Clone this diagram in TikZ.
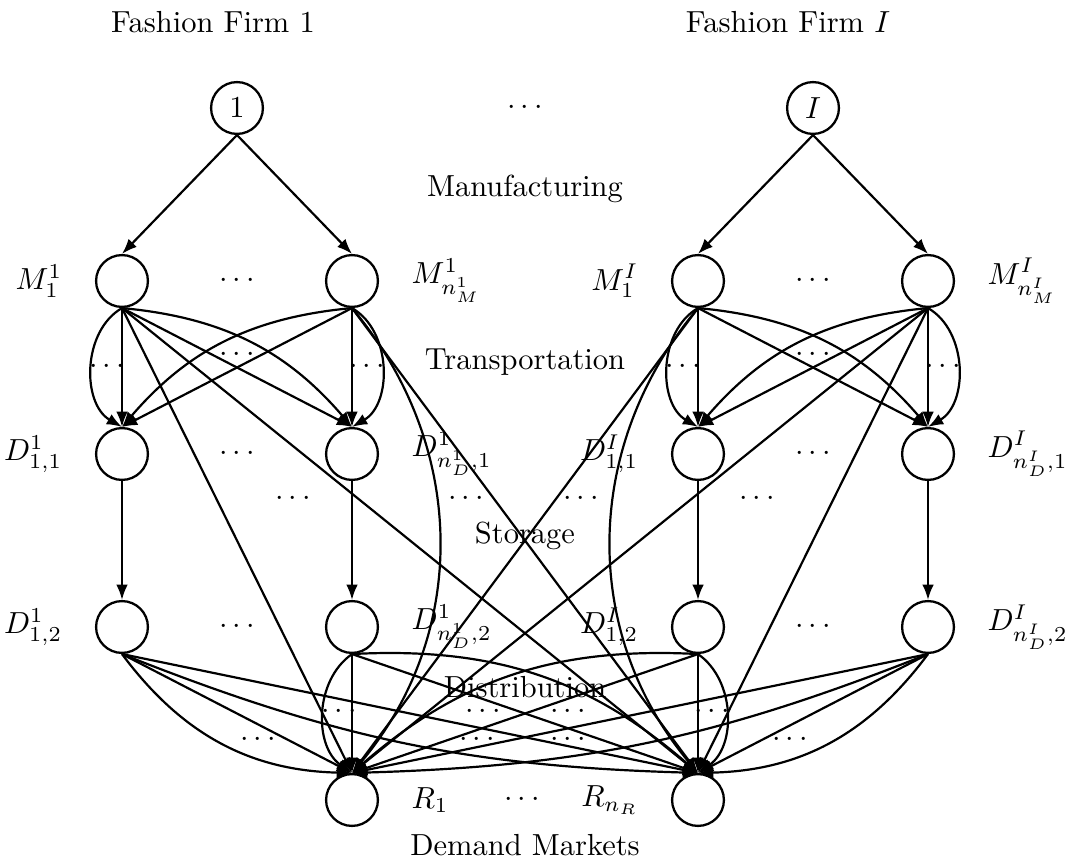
\documentclass[tikz,border=0pt]{standalone}
\usetikzlibrary{arrows.meta,positioning}
\begin{document}
\begin{tikzpicture}[x=0.328pt,y=-0.328pt,
  site/.style={circle,draw,line width=0.75pt,minimum size=17pt,inner sep=0pt},
  link/.style={-{Latex[length=5pt,width=3.8pt]},line width=0.72pt},
  lbl/.style={node distance=10.5pt,inner sep=0pt}]
\useasboundingbox (0,0) rectangle (1067,859);

% firms
\node[site] (F1) at (237,108) {$1$};
\node[site] (FI) at (813,108) {$I$};
\node (fdots) at (525,108) {$\cdots$};
\node[anchor=base] (t1) at (213,33) {Fashion Firm 1};
\node[anchor=base] (tI) at (788,33) {Fashion Firm $I$};

% manufacturing sites
\node[site] (Ma) at (122,281) {};
\node[site] (Mb) at (352,281) {};
\node[site] (Mc) at (698,281) {};
\node[site] (Md) at (928,281) {};
% distribution centres, two tiers
\node[site] (Pa) at (122,454) {};
\node[site] (Pb) at (352,454) {};
\node[site] (Pc) at (698,454) {};
\node[site] (Pd) at (928,454) {};
\node[site] (Qa) at (122,627) {};
\node[site] (Qb) at (352,627) {};
\node[site] (Qc) at (698,627) {};
\node[site] (Qd) at (928,627) {};
% demand markets
\node[site] (Ra) at (352,800) {};
\node[site] (Rb) at (698,800) {};

% node labels
\node[lbl,left=of Ma] (lMa) {$M^1_1$};
\node[lbl,right=of Mb] (lMb) {$M^1_{n^1_M}$};
\node[lbl,left=of Mc] (lMc) {$M^I_1$};
\node[lbl,right=of Md] (lMd) {$M^I_{n^I_M}$};
\node[lbl,left=of Pa] (lPa) {$D^1_{1,1}$};
\node[lbl,right=of Pb] (lPb) {$D^1_{n^1_D,1}$};
\node[lbl,left=of Pc] (lPc) {$D^I_{1,1}$};
\node[lbl,right=of Pd] (lPd) {$D^I_{n^I_D,1}$};
\node[lbl,left=of Qa] (lQa) {$D^1_{1,2}$};
\node[lbl,right=of Qb] (lQb) {$D^1_{n^1_D,2}$};
\node[lbl,left=of Qc] (lQc) {$D^I_{1,2}$};
\node[lbl,right=of Qd] (lQd) {$D^I_{n^I_D,2}$};
\node[lbl,right=of Ra] (lRa) {$R_1$};
\node[lbl,left=of Rb] (lRb) {$R_{n_R}$};

% dots between sites of a tier
\foreach \p in {(237,281),(813,281),(237,454),(813,454),(237,627),(813,627),(522,800)}
  \node at \p {$\cdots$};
% dots among the links of each stage
\foreach \p in {(237,355),(813,355),(107,367),(367,367),(683,367),(943,367),
                (293,499),(466,499),(581,499),(757,499),
                (258,740),(477,740),(568,740),(790,740),
                (339,712),(483,712),(568,712),(712,712)}
  \node at \p {$\cdots$};

% stage titles
\node[anchor=base] (s1) at (525,197) {Manufacturing};
\node[anchor=base] (s2) at (525,370) {Transportation};
\node[anchor=base] (s3) at (525,543) {Storage};
\node[anchor=base] (s4) at (525,697) {Distribution};
\node[anchor=base] (s5) at (525,855) {Demand Markets};

% manufacturing
\draw[link] (F1.south) -- (Ma.north);
\draw[link] (F1.south) -- (Mb.north);
\draw[link] (FI.south) -- (Mc.north);
\draw[link] (FI.south) -- (Md.north);

% transportation, firm 1
\draw[link] (Ma.south) -- (Pa.north);
\draw[link] (Ma.south) to[bend right=60] (Pa.north);
\draw[link] (Ma.south) -- (Pb.north);
\draw[link] (Ma.south) to[bend left=22] (Pb.north);
\draw[link] (Mb.south) -- (Pb.north);
\draw[link] (Mb.south) to[bend left=60] (Pb.north);
\draw[link] (Mb.south) -- (Pa.north);
\draw[link] (Mb.south) to[bend right=22] (Pa.north);
\draw[link] (Ma.south) -- (Ra.north);
\draw[link] (Ma.south) -- (Rb.north);
\draw[link] (Mb.south) to[bend left=40] (Ra.north);
\draw[link] (Mb.south) -- (Rb.north);
% transportation, firm I
\draw[link] (Mc.south) -- (Pc.north);
\draw[link] (Mc.south) to[bend right=60] (Pc.north);
\draw[link] (Mc.south) -- (Pd.north);
\draw[link] (Mc.south) to[bend left=22] (Pd.north);
\draw[link] (Md.south) -- (Pd.north);
\draw[link] (Md.south) to[bend left=60] (Pd.north);
\draw[link] (Md.south) -- (Pc.north);
\draw[link] (Md.south) to[bend right=22] (Pc.north);
\draw[link] (Md.south) -- (Rb.north);
\draw[link] (Md.south) -- (Ra.north);
\draw[link] (Mc.south) to[bend right=40] (Rb.north);
\draw[link] (Mc.south) -- (Ra.north);

% storage
\draw[link] (Pa) -- (Qa);
\draw[link] (Pb) -- (Qb);
\draw[link] (Pc) -- (Qc);
\draw[link] (Pd) -- (Qd);

% distribution, firm 1
\draw[link] (Qa.south) -- (Ra.north);
\draw[link] (Qa.south) to[bend right=26] (Ra.north);
\draw[link] (Qa.south) -- (Rb.north);
\draw[link] (Qa.south) to[bend right=10] (Rb.north);
\draw[link] (Qb.south) -- (Ra.north);
\draw[link] (Qb.south) to[bend right=55] (Ra.north);
\draw[link] (Qb.south) -- (Rb.north);
\draw[link] (Qb.south) to[bend left=22] (Rb.north);
% distribution, firm I
\draw[link] (Qd.south) -- (Rb.north);
\draw[link] (Qd.south) to[bend left=26] (Rb.north);
\draw[link] (Qd.south) -- (Ra.north);
\draw[link] (Qd.south) to[bend left=10] (Ra.north);
\draw[link] (Qc.south) -- (Rb.north);
\draw[link] (Qc.south) to[bend left=55] (Rb.north);
\draw[link] (Qc.south) -- (Ra.north);
\draw[link] (Qc.south) to[bend right=22] (Ra.north);
\end{tikzpicture}
\end{document}
